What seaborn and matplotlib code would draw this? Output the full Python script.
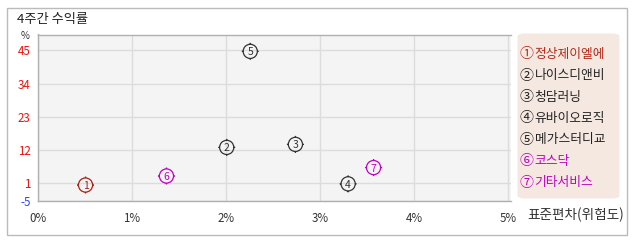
import numpy as np
import pandas as pd
import matplotlib
matplotlib.use("Agg")
import matplotlib.pyplot as plt
import seaborn as sns
from matplotlib.path import Path
from matplotlib.patches import Rectangle, FancyBboxPatch

# ---- data ----
names = ["정상제이엘에", "나이스디앤비", "청담러닝", "유바이오로직", "메가스터디교", "코스닥", "기타서비스"]
labels = ["①", "②", "③", "④", "⑤", "⑥", "⑦"]
risk = [0.51, 2.01, 2.74, 3.30, 2.26, 1.37, 3.57]        # 표준편차 (%)
ret = [0.3, 12.8, 13.8, 0.7, 44.7, 3.3, 6.1]            # 4주간 수익률 (%)
point_colors = ["#a52218", "#333333", "#333333", "#333333", "#333333", "#c000c0", "#c000c0"]
legend_colors = ["#b22a1a", "#222222", "#222222", "#222222", "#222222", "#c000c0", "#c000c0"]
yticks = [-5, 1, 12, 23, 34, 45]
xticks = [0, 1, 2, 3, 4, 5]
xticklabels = ["0%", "1%", "2%", "3%", "4%", "5%"]

sns.set_theme(style="white")
plt.rcParams["font.family"] = ["Noto Sans CJK KR", "DejaVu Sans"]

W, H = 638, 242
fig = plt.figure(figsize=(W / 100, H / 100), dpi=100)
fig.patch.set_facecolor("white")

def fx(px):
    return px / W

def fy(py):
    return 1 - py / H

# outer border
fig.patches.append(Rectangle((fx(6.5), fy(235)), fx(627) - fx(6.5), fy(7.5) - fy(235),
                             transform=fig.transFigure, fill=False, edgecolor="#bbbbbb", lw=1))

L, R, T, B = 37.5, 511, 34.5, 201
ax = fig.add_axes([fx(L), fy(B), fx(R) - fx(L), fy(T) - fy(B)])
ax.set_facecolor("#f4f4f4")

df = pd.DataFrame({"risk": risk, "ret": ret, "name": names})

# marker: circle with small ticks
circ = Path.unit_circle()
tick_verts = []
tick_codes = []
for dx, dy in [(0, 1), (0, -1), (1, 0), (-1, 0)]:
    tick_verts += [(dx * 1.0, dy * 1.0), (dx * 1.2, dy * 1.2)]
    tick_codes += [Path.MOVETO, Path.LINETO]
ticks_path = Path(tick_verts, tick_codes)
marker_path = Path.make_compound_path(circ, ticks_path)

sns.scatterplot(data=df, x="risk", y="ret", hue="name", palette=point_colors,
                marker=marker_path, s=150, linewidth=0.9, legend=False, ax=ax, zorder=3)
coll = ax.collections[-1]
fcs = coll.get_facecolors()
coll.set_edgecolors(fcs)
coll.set_facecolors("none")

for i, (xv, yv, c) in enumerate(zip(risk, ret, point_colors)):
    ax.text(xv, yv, str(i + 1), ha="center", va="center_baseline",
            fontsize=7.5, color=c, zorder=4)

ax.set_xlim(0, 5.03)
ax.set_ylim(-5, 50.3)
ax.set_xticks(xticks)
ax.set_xticklabels(xticklabels)
ax.set_yticks(yticks)
ax.set_yticklabels([str(v) for v in yticks])
ax.grid(True, color="#dcdcdc", lw=1)
ax.set_axisbelow(True)
ax.set_xlabel("")
ax.set_ylabel("")
ax.tick_params(axis="both", length=0, labelsize=8.3)
ax.tick_params(axis="x", pad=8, colors="#333333")
ax.tick_params(axis="y", pad=5)
for lbl, v in zip(ax.get_yticklabels(), yticks):
    lbl.set_color("#3344ee" if v < 0 else "#ee1111")
for lbl in ax.get_xticklabels():
    lbl.set_color("#333333")
for s in ["left", "bottom", "top"]:
    ax.spines[s].set_color("#b0b0b0")
    ax.spines[s].set_linewidth(1)
ax.spines["right"].set_visible(False)

# texts
fig.text(fx(17), fy(20), "4주간 수익률", fontsize=9.5, color="#222222", ha="left", va="center")
fig.text(fx(25), fy(36), "%", fontsize=7, color="#333333", ha="center", va="center")
fig.text(fx(527), fy(215), "표준편차(위험도)", fontsize=9.8, color="#333333", ha="left", va="center")

# legend box
box = FancyBboxPatch((fx(517.5), fy(198.5)), fx(619.5) - fx(517.5), fy(33.5) - fy(198.5),
                     boxstyle="round,pad=0,rounding_size=0.012", transform=fig.transFigure,
                     facecolor="#f5e8e1", edgecolor="none")
fig.patches.append(box)
y0 = 54.3
step = 21.4
for i, (lab, nm, c) in enumerate(zip(labels, names, legend_colors)):
    fig.text(fx(526.7), fy(y0 + i * step), lab, fontsize=10, color=c,
             ha="center", va="center")
    fig.text(fx(534.5), fy(y0 + i * step), nm, fontsize=9.2, color=c,
             ha="left", va="center")

fig.savefig("out.png", dpi=100)
